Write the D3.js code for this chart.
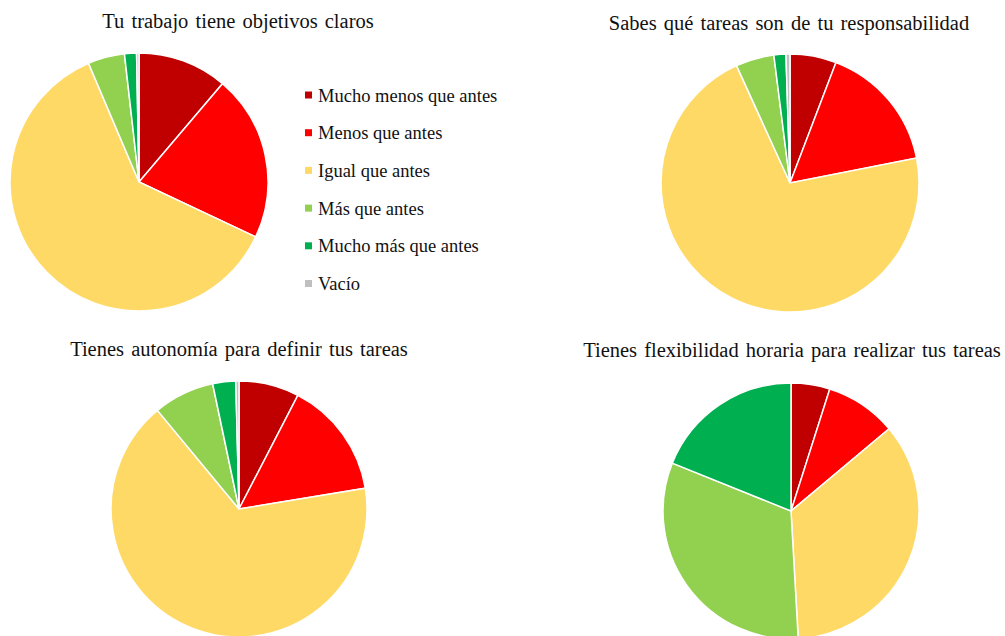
<!DOCTYPE html>
<html>
<head>
<meta charset="utf-8">
<script src="https://cdn.jsdelivr.net/npm/d3@7"></script>
<style>
  body { margin: 0; background: #fff; }
  svg text { font-family: "Times New Roman", "Liberation Serif", Tinos, "DejaVu Serif", serif; fill: #111; }
</style>
</head>
<body>
<svg id="chart" width="1005" height="636"></svg>
<script>
const categories = ["Mucho menos que antes", "Menos que antes", "Igual que antes", "Más que antes", "Mucho más que antes", "Vacío"];
const colors = ["#C00000", "#FF0000", "#FFD966", "#92D050", "#00B050", "#BFBFBF"];

const titles = [
    "Tu trabajo tiene objetivos claros",
    "Sabes qué tareas son de tu responsabilidad",
    "Tienes autonomía para definir tus tareas",
    "Tienes flexibilidad horaria para realizar tus tareas"
];

// percentages
const objetivos = [11.2, 20.8, 61.6, 4.6, 1.5, 0.3];
const responsabilidad = [5.8, 16.1, 71.3, 4.8, 1.5, 0.5];
const autonomia = [7.6, 14.8, 66.6, 7.7, 2.9, 0.4];
const flexibilidad = [4.9, 9.0, 35.2, 32.0, 18.9, 0];

const series = [objetivos, responsabilidad, autonomia, flexibilidad];

// layout of the four panels
const panels = [
    { cx: 139, cy: 182, r: 129, tx: 238, ty: 28 },
    { cx: 790, cy: 183, r: 129, tx: 789, ty: 30 },
    { cx: 239, cy: 509, r: 128, tx: 239, ty: 356 },
    { cx: 791, cy: 511, r: 128, tx: 792, ty: 357 }
];

const svg = d3.select("#chart");
const color = d3.scaleOrdinal().domain(categories).range(colors);
const pie = d3.pie().sort(null).value(d => d.v);

panels.forEach((p, i) => {
    const arc = d3.arc().innerRadius(0).outerRadius(p.r);
    const data = categories.map((c, j) => ({ c, v: series[i][j] }));

    svg.append("text")
        .attr("x", p.tx).attr("y", p.ty)
        .attr("text-anchor", "middle")
        .attr("font-size", 20.5)
        .attr("word-spacing", 2)
        .text(titles[i]);

    const g = svg.append("g").attr("transform", `translate(${p.cx},${p.cy})`);
    g.selectAll("path")
        .data(pie(data).filter(d => d.data.v > 0))
        .join("path")
        .attr("d", arc)
        .attr("fill", d => color(d.data.c))
        .attr("stroke", "#fff")
        .attr("stroke-width", 1.5);
});

// legend
const legend = svg.append("g").attr("transform", "translate(305,95)");
const rows = legend.selectAll("g")
    .data(categories)
    .join("g")
    .attr("transform", (d, i) => `translate(0,${i * 37.7})`);
rows.append("rect")
    .attr("x", 0).attr("y", -3.5).attr("width", 7).attr("height", 7)
    .attr("fill", d => color(d));
rows.append("text")
    .attr("x", 13).attr("y", 6.5)
    .attr("font-size", 18.5)
    .text(d => d);
</script>
</body>
</html>
